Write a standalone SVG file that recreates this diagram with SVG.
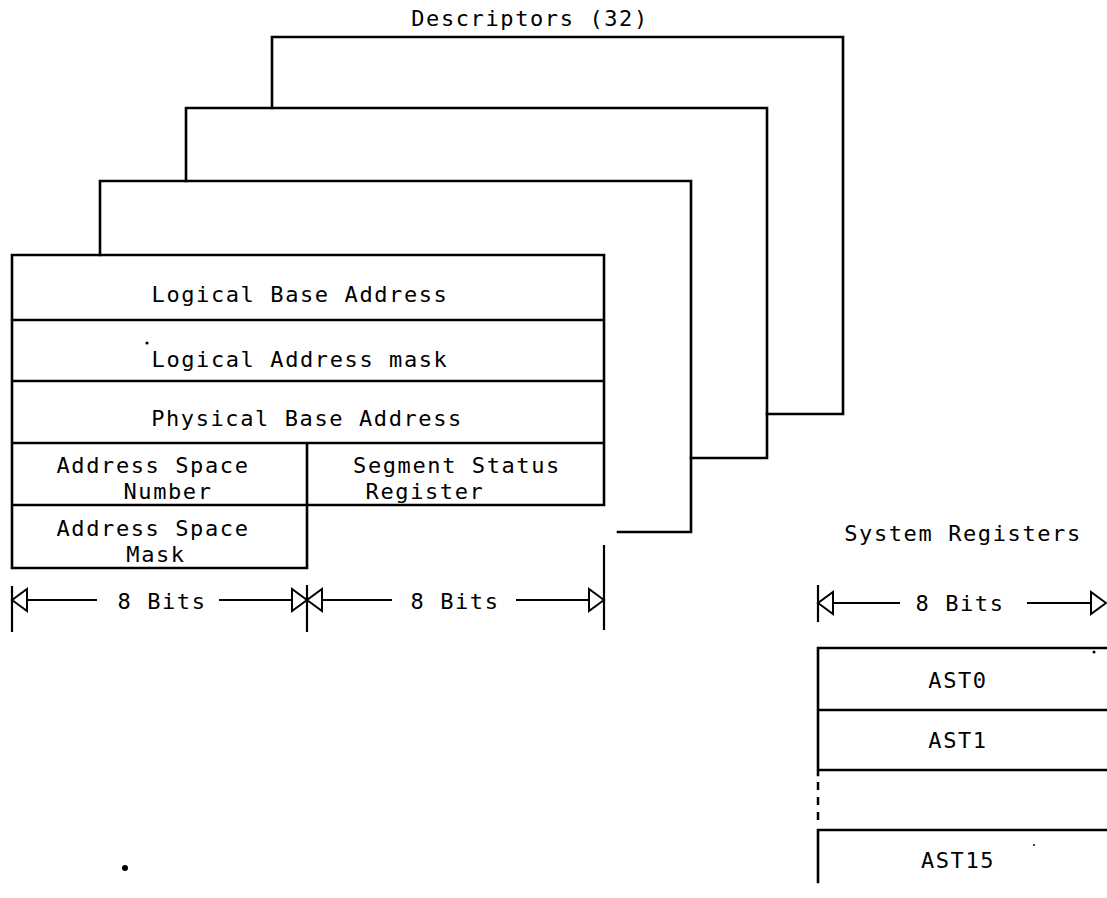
<svg xmlns="http://www.w3.org/2000/svg" width="1107" height="898" viewBox="0 0 1107 898">
<style>
.ln{fill:none;stroke:#000;stroke-width:2.6;stroke-linecap:square}
.dsh{fill:none;stroke:#000;stroke-width:2.5;stroke-dasharray:8 7}
.tx{font-family:"DejaVu Sans Mono","Liberation Mono",monospace;font-size:22px;letter-spacing:1.6px;fill:#000;text-anchor:middle}
.dim{fill:none;stroke:#000;stroke-width:2.2}
</style>
<defs>
<marker id="ah" viewBox="-17 -13 19 26" refX="0" refY="0" markerWidth="19" markerHeight="26" markerUnits="userSpaceOnUse" orient="auto" overflow="visible">
<path d="M0,0 L-15,-11 L-15,11 Z" fill="#fff" stroke="#000" stroke-width="2"/>
</marker>
</defs>
<rect width="1107" height="898" fill="#fff"/>
<text class="tx" x="530" y="26">Descriptors (32)</text>
<g id="frame3"><path class="ln" d="M272,108 V37 H843 V414 H767"/></g>
<g id="frame2"><path class="ln" d="M186,181 V108 H767 V458 H691"/></g>
<g id="frame1"><path class="ln" d="M100,255 V181 H691 V532 H618"/></g>
<g id="descriptor">
<path class="ln" d="M12,255 H604 V505 H12 Z M12,320 H604 M12,381 H604 M12,443 H604 M307,443 V568 M12,505 V568 H307"/>
<text class="tx" x="300" y="302">Logical Base Address</text>
<text class="tx" x="300" y="367">Logical Address mask</text>
<circle cx="147" cy="343" r="1.6" fill="#000"/>
<text class="tx" x="307" y="426">Physical Base Address</text>
<text class="tx" x="153" y="473">Address Space</text>
<text class="tx" x="168" y="499">Number</text>
<text class="tx" x="457" y="473">Segment Status</text>
<text class="tx" x="425" y="499">Register</text>
<text class="tx" x="153" y="536">Address Space</text>
<text class="tx" x="156" y="562">Mask</text>
</g>
<g id="connectors">
<path class="dim" d="M12,586 V632 M307,585 V632 M604,545 V630"/>
<line class="dim" x1="97" y1="600" x2="12" y2="600" marker-end="url(#ah)"/>
<line class="dim" x1="219" y1="600" x2="307" y2="600" marker-end="url(#ah)"/>
<line class="dim" x1="392" y1="600" x2="307" y2="600" marker-end="url(#ah)"/>
<line class="dim" x1="516" y1="600" x2="604" y2="600" marker-end="url(#ah)"/>
<text class="tx" x="162" y="609">8 Bits</text>
<text class="tx" x="455" y="609">8 Bits</text>
<path class="dim" d="M818,585 V622"/>
<line class="dim" x1="900" y1="603" x2="818" y2="603" marker-end="url(#ah)"/>
<line class="dim" x1="1027" y1="603" x2="1106" y2="603" marker-end="url(#ah)"/>
<text class="tx" x="960" y="611">8 Bits</text>
</g>
<text class="tx" x="963" y="541">System Registers</text>
<g id="system-registers">
<path class="ln" d="M818,648 H1107 M818,710 H1107 M818,770 H1107 M818,830 H1107 M818,648 V775 M818,830 V882"/>
<path class="dsh" d="M818,782 V826"/>
<text class="tx" x="958" y="688">AST0</text>
<text class="tx" x="958" y="748">AST1</text>
<text class="tx" x="958" y="868">AST15</text>
</g>
<circle cx="125" cy="868" r="3" fill="#000"/>
<circle cx="1094" cy="652" r="1.5" fill="#000"/>
<circle cx="1034" cy="845" r="1" fill="#000"/>
</svg>
